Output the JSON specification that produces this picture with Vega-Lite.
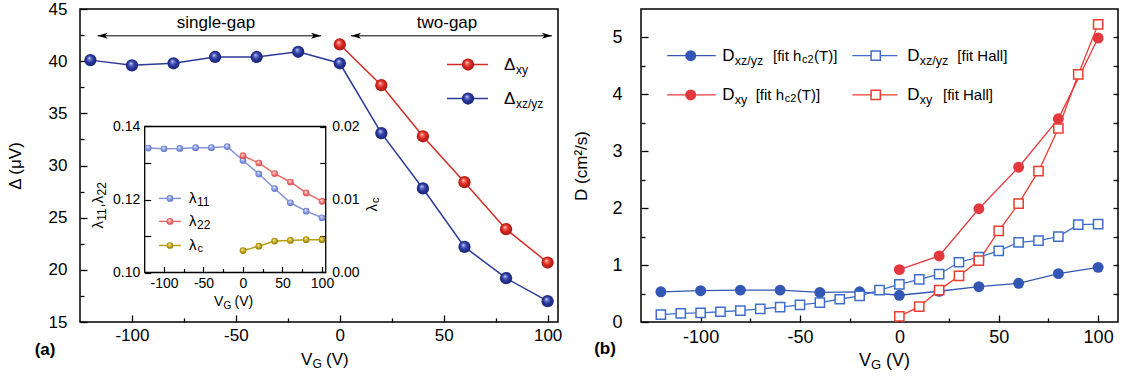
{
"$schema": "https://vega.github.io/schema/vega-lite/v6.json",
"background": "white",
"padding": {"left": 5, "top": -1, "right": 0, "bottom": 0},
"spacing": 9,
"config": {
  "font": "Liberation Sans",
  "locale": {"number": {"decimal": ".", "thousands": ",", "grouping": [3], "currency": ["$", ""], "minus": "-"}},
  "view": {"stroke": "black", "strokeWidth": 1.5},
  "axis": {"labelFont": "Liberation Sans", "titleFont": "Liberation Sans", "titleFontWeight": "normal", "labelColor": "black", "titleColor": "black", "tickColor": "black", "domain": false, "grid": false, "labelOverlap": false, "labelFlush": false, "labelBound": false}
},
"datasets": {
  "gap": [
    {"s":"xzyz","vg":-120,"d":40.1},{"s":"xzyz","vg":-100,"d":39.6},{"s":"xzyz","vg":-80,"d":39.8},{"s":"xzyz","vg":-60,"d":40.4},{"s":"xzyz","vg":-40,"d":40.4},{"s":"xzyz","vg":-20,"d":40.9},{"s":"xzyz","vg":0,"d":39.8},{"s":"xzyz","vg":20,"d":33.1},{"s":"xzyz","vg":40,"d":27.8},{"s":"xzyz","vg":60,"d":22.2},{"s":"xzyz","vg":80,"d":19.2},{"s":"xzyz","vg":100,"d":17.0},
    {"s":"xy","vg":0,"d":41.6},{"s":"xy","vg":20,"d":37.7},{"s":"xy","vg":40,"d":32.8},{"s":"xy","vg":60,"d":28.4},{"s":"xy","vg":80,"d":23.9},{"s":"xy","vg":100,"d":20.7}
  ],
  "lambda": [
    {"s":"l11","vg":-120,"v":0.1341},{"s":"l11","vg":-100,"v":0.1339},{"s":"l11","vg":-80,"v":0.134},{"s":"l11","vg":-60,"v":0.1342},{"s":"l11","vg":-40,"v":0.1342},{"s":"l11","vg":-20,"v":0.1345},{"s":"l11","vg":0,"v":0.1307},{"s":"l11","vg":20,"v":0.127},{"s":"l11","vg":40,"v":0.123},{"s":"l11","vg":60,"v":0.1191},{"s":"l11","vg":80,"v":0.1168},{"s":"l11","vg":100,"v":0.115},
    {"s":"l22","vg":0,"v":0.132},{"s":"l22","vg":20,"v":0.13},{"s":"l22","vg":40,"v":0.1271},{"s":"l22","vg":60,"v":0.1248},{"s":"l22","vg":80,"v":0.1218},{"s":"l22","vg":100,"v":0.1195},
    {"s":"lc","vg":0,"v":0.003},{"s":"lc","vg":20,"v":0.0036},{"s":"lc","vg":40,"v":0.0043},{"s":"lc","vg":60,"v":0.0044},{"s":"lc","vg":80,"v":0.0045},{"s":"lc","vg":100,"v":0.0045}
  ],
  "diff": [
    {"s":"cb","vg":-120,"D":0.53},{"s":"cb","vg":-100,"D":0.55},{"s":"cb","vg":-80,"D":0.56},{"s":"cb","vg":-60,"D":0.56},{"s":"cb","vg":-40,"D":0.52},{"s":"cb","vg":-20,"D":0.53},{"s":"cb","vg":0,"D":0.47},{"s":"cb","vg":20,"D":0.54},{"s":"cb","vg":40,"D":0.62},{"s":"cb","vg":60,"D":0.68},{"s":"cb","vg":80,"D":0.85},{"s":"cb","vg":100,"D":0.96},
    {"s":"sb","vg":-120,"D":0.13},{"s":"sb","vg":-110,"D":0.15},{"s":"sb","vg":-100,"D":0.16},{"s":"sb","vg":-90,"D":0.18},{"s":"sb","vg":-80,"D":0.2},{"s":"sb","vg":-70,"D":0.23},{"s":"sb","vg":-60,"D":0.26},{"s":"sb","vg":-50,"D":0.3},{"s":"sb","vg":-40,"D":0.34},{"s":"sb","vg":-30,"D":0.4},{"s":"sb","vg":-20,"D":0.46},{"s":"sb","vg":-10,"D":0.56},{"s":"sb","vg":0,"D":0.66},{"s":"sb","vg":10,"D":0.75},{"s":"sb","vg":20,"D":0.84},{"s":"sb","vg":30,"D":1.05},{"s":"sb","vg":40,"D":1.14},{"s":"sb","vg":50,"D":1.25},{"s":"sb","vg":60,"D":1.4},{"s":"sb","vg":70,"D":1.43},{"s":"sb","vg":80,"D":1.5},{"s":"sb","vg":90,"D":1.71},{"s":"sb","vg":100,"D":1.72},
    {"s":"cr","vg":0,"D":0.92},{"s":"cr","vg":20,"D":1.16},{"s":"cr","vg":40,"D":1.99},{"s":"cr","vg":60,"D":2.72},{"s":"cr","vg":80,"D":3.57},{"s":"cr","vg":100,"D":4.99},
    {"s":"sr","vg":0,"D":0.1},{"s":"sr","vg":10,"D":0.27},{"s":"sr","vg":20,"D":0.56},{"s":"sr","vg":30,"D":0.81},{"s":"sr","vg":40,"D":1.08},{"s":"sr","vg":50,"D":1.6},{"s":"sr","vg":60,"D":2.08},{"s":"sr","vg":70,"D":2.65},{"s":"sr","vg":80,"D":3.4},{"s":"sr","vg":90,"D":4.35},{"s":"sr","vg":100,"D":5.23}
  ]
},
"hconcat": [
{
  "width": 478, "height": 313,
  "data": {"values": [{}]},
  "resolve": {"scale": {"x": "independent", "y": "independent"}},
  "layer": [
    {"data": {"name": "gap"}, "transform": [{"filter": "datum.s === 'xzyz'"}],
     "mark": {"type": "line", "color": "#2b3a97", "strokeWidth": 1.5},
     "encoding": {
       "x": {"field": "vg", "type": "quantitative", "scale": {"domain": [-125, 105], "nice": false, "zero": false},
             "axis": {"orient": "bottom", "title": null, "values": [-100,-50,0,50,100], "tickSize": -7, "tickWidth": 1.3, "labelPadding": 12, "labelFontSize": 17}},
       "y": {"field": "d", "type": "quantitative", "scale": {"domain": [15, 45], "nice": false, "zero": false},
             "axis": {"orient": "left", "title": "Δ (μV)", "titleFontSize": 17, "titlePadding": 24, "values": [15,20,25,30,35,40,45], "tickSize": -7, "tickWidth": 1.3, "labelPadding": 20, "labelFontSize": 17}}
     }},
    {"data": {"name": "gap"}, "transform": [{"filter": "datum.s === 'xy'"}],
     "mark": {"type": "line", "color": "#d42b24", "strokeWidth": 1.5},
     "encoding": {
       "x": {"field": "vg", "type": "quantitative", "scale": {"domain": [-125, 105], "nice": false, "zero": false},
             "axis": {"orient": "bottom", "title": null, "values": [-75,-25,25,75], "labels": false, "tickSize": -4, "tickWidth": 1.3}},
       "y": {"field": "d", "type": "quantitative", "scale": {"domain": [15, 45], "nice": false, "zero": false},
             "axis": {"orient": "left", "title": null, "values": [17.5,22.5,27.5,32.5,37.5,42.5], "labels": false, "tickSize": -4, "tickWidth": 1.3}}
     }},
    {"data": {"name": "gap"}, "transform": [{"filter": "datum.s === 'xzyz'"}],
     "mark": {"type": "point", "shape": "circle", "filled": true, "opacity": 1, "size": 150, "strokeWidth": 0,
              "fill": {"gradient": "radial", "x1": 0.4, "y1": 0.33, "r1": 0, "x2": 0.5, "y2": 0.5, "r2": 0.55, "stops": [{"offset": 0, "color": "#eef0ff"}, {"offset": 0.18, "color": "#7a86d4"}, {"offset": 0.5, "color": "#2c3aa0"}, {"offset": 1, "color": "#151f6e"}]}},
     "encoding": {"x": {"field": "vg", "type": "quantitative", "scale": {"domain": [-125, 105], "nice": false, "zero": false}, "axis": null}, "y": {"field": "d", "type": "quantitative", "scale": {"domain": [15, 45], "nice": false, "zero": false}, "axis": null}}},
    {"data": {"name": "gap"}, "transform": [{"filter": "datum.s === 'xy'"}],
     "mark": {"type": "point", "shape": "circle", "filled": true, "opacity": 1, "size": 150, "strokeWidth": 0,
              "fill": {"gradient": "radial", "x1": 0.4, "y1": 0.33, "r1": 0, "x2": 0.5, "y2": 0.5, "r2": 0.55, "stops": [{"offset": 0, "color": "#fff4f0"}, {"offset": 0.18, "color": "#f27a6e"}, {"offset": 0.5, "color": "#de2a22"}, {"offset": 1, "color": "#951510"}]}},
     "encoding": {"x": {"field": "vg", "type": "quantitative", "scale": {"domain": [-125, 105], "nice": false, "zero": false}, "axis": null}, "y": {"field": "d", "type": "quantitative", "scale": {"domain": [15, 45], "nice": false, "zero": false}, "axis": null}}},
    {"mark": {"type": "rule", "color": "black", "strokeWidth": 1},
     "encoding": {"x": {"datum": -116.5, "type": "quantitative", "scale": {"domain": [-125, 105], "nice": false, "zero": false}, "axis": null}, "x2": {"datum": -9}, "y": {"datum": 42.43, "type": "quantitative", "scale": {"domain": [15, 45], "nice": false, "zero": false}, "axis": null}}},
    {"mark": {"type": "rule", "color": "black", "strokeWidth": 1},
     "encoding": {"x": {"datum": 5.4, "type": "quantitative", "scale": {"domain": [-125, 105], "nice": false, "zero": false}, "axis": null}, "x2": {"datum": 102.1}, "y": {"datum": 42.43, "type": "quantitative", "scale": {"domain": [15, 45], "nice": false, "zero": false}, "axis": null}}},
    {"mark": {"type": "point", "shape": "M-1,0 L1,-0.6 L0.5,0 L1,0.6 Z", "filled": true, "opacity": 1, "color": "black", "size": 100},
     "encoding": {"x": {"datum": -114.1, "type": "quantitative", "scale": {"domain": [-125, 105], "nice": false, "zero": false}, "axis": null}, "y": {"datum": 42.43, "type": "quantitative", "scale": {"domain": [15, 45], "nice": false, "zero": false}, "axis": null}}},
    {"mark": {"type": "point", "shape": "M1,0 L-1,-0.6 L-0.5,0 L-1,0.6 Z", "filled": true, "opacity": 1, "color": "black", "size": 100},
     "encoding": {"x": {"datum": -11.4, "type": "quantitative", "scale": {"domain": [-125, 105], "nice": false, "zero": false}, "axis": null}, "y": {"datum": 42.43, "type": "quantitative", "scale": {"domain": [15, 45], "nice": false, "zero": false}, "axis": null}}},
    {"mark": {"type": "point", "shape": "M-1,0 L1,-0.6 L0.5,0 L1,0.6 Z", "filled": true, "opacity": 1, "color": "black", "size": 100},
     "encoding": {"x": {"datum": 7.8, "type": "quantitative", "scale": {"domain": [-125, 105], "nice": false, "zero": false}, "axis": null}, "y": {"datum": 42.43, "type": "quantitative", "scale": {"domain": [15, 45], "nice": false, "zero": false}, "axis": null}}},
    {"mark": {"type": "point", "shape": "M1,0 L-1,-0.6 L-0.5,0 L-1,0.6 Z", "filled": true, "opacity": 1, "color": "black", "size": 100},
     "encoding": {"x": {"datum": 99.7, "type": "quantitative", "scale": {"domain": [-125, 105], "nice": false, "zero": false}, "axis": null}, "y": {"datum": 42.43, "type": "quantitative", "scale": {"domain": [15, 45], "nice": false, "zero": false}, "axis": null}}},
    {"mark": {"type": "text", "text": "single-gap", "fontSize": 17, "align": "center", "baseline": "middle", "color": "black"},
     "encoding": {"x": {"datum": -59.6, "type": "quantitative", "scale": {"domain": [-125, 105], "nice": false, "zero": false}, "axis": null}, "y": {"datum": 43.64, "type": "quantitative", "scale": {"domain": [15, 45], "nice": false, "zero": false}, "axis": null}}},
    {"mark": {"type": "text", "text": "two-gap", "fontSize": 17, "align": "center", "baseline": "middle", "color": "black"},
     "encoding": {"x": {"datum": 51.6, "type": "quantitative", "scale": {"domain": [-125, 105], "nice": false, "zero": false}, "axis": null}, "y": {"datum": 43.64, "type": "quantitative", "scale": {"domain": [15, 45], "nice": false, "zero": false}, "axis": null}}},
    {"mark": {"type": "rule", "color": "#d42b24", "strokeWidth": 1.5},
     "encoding": {"x": {"datum": 51.6, "type": "quantitative", "scale": {"domain": [-125, 105], "nice": false, "zero": false}, "axis": null}, "x2": {"datum": 71.3}, "y": {"datum": 39.68, "type": "quantitative", "scale": {"domain": [15, 45], "nice": false, "zero": false}, "axis": null}}},
    {"mark": {"type": "rule", "color": "#2b3a97", "strokeWidth": 1.5},
     "encoding": {"x": {"datum": 51.6, "type": "quantitative", "scale": {"domain": [-125, 105], "nice": false, "zero": false}, "axis": null}, "x2": {"datum": 71.3}, "y": {"datum": 36.42, "type": "quantitative", "scale": {"domain": [15, 45], "nice": false, "zero": false}, "axis": null}}},
    {"mark": {"type": "point", "shape": "circle", "filled": true, "opacity": 1, "size": 150, "strokeWidth": 0,
              "fill": {"gradient": "radial", "x1": 0.4, "y1": 0.33, "r1": 0, "x2": 0.5, "y2": 0.5, "r2": 0.55, "stops": [{"offset": 0, "color": "#fff4f0"}, {"offset": 0.18, "color": "#f27a6e"}, {"offset": 0.5, "color": "#de2a22"}, {"offset": 1, "color": "#951510"}]}},
     "encoding": {"x": {"datum": 61.7, "type": "quantitative", "scale": {"domain": [-125, 105], "nice": false, "zero": false}, "axis": null}, "y": {"datum": 39.68, "type": "quantitative", "scale": {"domain": [15, 45], "nice": false, "zero": false}, "axis": null}}},
    {"mark": {"type": "point", "shape": "circle", "filled": true, "opacity": 1, "size": 150, "strokeWidth": 0,
              "fill": {"gradient": "radial", "x1": 0.4, "y1": 0.33, "r1": 0, "x2": 0.5, "y2": 0.5, "r2": 0.55, "stops": [{"offset": 0, "color": "#eef0ff"}, {"offset": 0.18, "color": "#7a86d4"}, {"offset": 0.5, "color": "#2c3aa0"}, {"offset": 1, "color": "#151f6e"}]}},
     "encoding": {"x": {"datum": 61.7, "type": "quantitative", "scale": {"domain": [-125, 105], "nice": false, "zero": false}, "axis": null}, "y": {"datum": 36.42, "type": "quantitative", "scale": {"domain": [15, 45], "nice": false, "zero": false}, "axis": null}}},
    {"mark": {"type": "text", "text": "Δ", "fontSize": 17, "align": "left", "baseline": "middle", "color": "black"},
     "encoding": {"x": {"datum": 79, "type": "quantitative", "scale": {"domain": [-125, 105], "nice": false, "zero": false}, "axis": null}, "y": {"datum": 39.68, "type": "quantitative", "scale": {"domain": [15, 45], "nice": false, "zero": false}, "axis": null}}},
    {"mark": {"type": "text", "text": "xy", "fontSize": 12, "align": "left", "baseline": "middle", "color": "black", "dx": 12, "dy": 5},
     "encoding": {"x": {"datum": 79, "type": "quantitative", "scale": {"domain": [-125, 105], "nice": false, "zero": false}, "axis": null}, "y": {"datum": 39.68, "type": "quantitative", "scale": {"domain": [15, 45], "nice": false, "zero": false}, "axis": null}}},
    {"mark": {"type": "text", "text": "Δ", "fontSize": 17, "align": "left", "baseline": "middle", "color": "black"},
     "encoding": {"x": {"datum": 79, "type": "quantitative", "scale": {"domain": [-125, 105], "nice": false, "zero": false}, "axis": null}, "y": {"datum": 36.42, "type": "quantitative", "scale": {"domain": [15, 45], "nice": false, "zero": false}, "axis": null}}},
    {"mark": {"type": "text", "text": "xz/yz", "fontSize": 12, "align": "left", "baseline": "middle", "color": "black", "dx": 12, "dy": 5},
     "encoding": {"x": {"datum": 79, "type": "quantitative", "scale": {"domain": [-125, 105], "nice": false, "zero": false}, "axis": null}, "y": {"datum": 36.42, "type": "quantitative", "scale": {"domain": [15, 45], "nice": false, "zero": false}, "axis": null}}},
    {"mark": {"type": "text", "text": "(a)", "fontSize": 17, "fontWeight": "bold", "align": "center", "baseline": "middle", "color": "black"},
     "encoding": {"x": {"datum": -141.8, "type": "quantitative", "scale": {"domain": [-125, 105], "nice": false, "zero": false}, "axis": null}, "y": {"datum": 12.36, "type": "quantitative", "scale": {"domain": [15, 45], "nice": false, "zero": false}, "axis": null}}},
    {"mark": {"type": "text", "text": "V", "fontSize": 17, "align": "left", "baseline": "middle", "color": "black"},
     "encoding": {"x": {"datum": -18.65, "type": "quantitative", "scale": {"domain": [-125, 105], "nice": false, "zero": false}, "axis": null}, "y": {"datum": 11.4, "type": "quantitative", "scale": {"domain": [15, 45], "nice": false, "zero": false}, "axis": null}}},
    {"mark": {"type": "text", "text": "G", "fontSize": 12, "align": "left", "baseline": "middle", "color": "black", "dx": 11.5, "dy": 4},
     "encoding": {"x": {"datum": -18.65, "type": "quantitative", "scale": {"domain": [-125, 105], "nice": false, "zero": false}, "axis": null}, "y": {"datum": 11.4, "type": "quantitative", "scale": {"domain": [15, 45], "nice": false, "zero": false}, "axis": null}}},
    {"mark": {"type": "text", "text": "(V)", "fontSize": 17, "align": "left", "baseline": "middle", "color": "black", "dx": 25},
     "encoding": {"x": {"datum": -18.65, "type": "quantitative", "scale": {"domain": [-125, 105], "nice": false, "zero": false}, "axis": null}, "y": {"datum": 11.4, "type": "quantitative", "scale": {"domain": [15, 45], "nice": false, "zero": false}, "axis": null}}},

    {"mark": {"type": "rect", "fill": "white", "fillOpacity": 0, "stroke": "black", "strokeWidth": 1.3},
     "encoding": {"x": {"datum": -124.4, "type": "quantitative", "scale": {"domain": [-206.3, 398.7], "nice": false, "zero": false}, "axis": null}, "x2": {"datum": 104.7},
                  "y": {"datum": 0.1, "type": "quantitative", "scale": {"domain": [0.08644, 0.17219], "nice": false, "zero": false}, "axis": null}, "y2": {"datum": 0.14}}},
    {"data": {"name": "lambda"}, "transform": [{"filter": "datum.s === 'l11'"}],
     "mark": {"type": "line", "color": "#8296dc", "strokeWidth": 1.5},
     "encoding": {
       "x": {"field": "vg", "type": "quantitative", "scale": {"domain": [-206.3, 398.7], "nice": false, "zero": false},
             "axis": {"orient": "bottom", "offset": -49.5, "title": null, "values": [-100,-50,0,50,100], "tickSize": -6, "tickWidth": 1.2, "labelPadding": 10, "labelFontSize": 14}},
       "y": {"field": "v", "type": "quantitative", "scale": {"domain": [0.08644, 0.17219], "nice": false, "zero": false},
             "axis": {"orient": "left", "offset": -64.7, "title": null, "values": [0.1, 0.12, 0.14], "format": ".2f", "tickSize": -6, "tickWidth": 1.2, "labelPadding": 11, "labelFontSize": 14}}
     }},
    {"data": {"name": "lambda"}, "transform": [{"filter": "datum.s === 'l22'"}],
     "mark": {"type": "line", "color": "#e96a68", "strokeWidth": 1.5},
     "encoding": {
       "x": {"field": "vg", "type": "quantitative", "scale": {"domain": [-206.3, 398.7], "nice": false, "zero": false},
             "axis": {"orient": "bottom", "offset": -49.5, "title": null, "values": [-75,-25,25,75], "labels": false, "tickSize": -4, "tickWidth": 1.2}},
       "y": {"field": "v", "type": "quantitative", "scale": {"domain": [0.08644, 0.17219], "nice": false, "zero": false},
             "axis": {"orient": "left", "offset": -64.7, "title": null, "values": [0.11, 0.13], "labels": false, "tickSize": -6, "tickWidth": 1.2}}
     }},
    {"data": {"name": "lambda"}, "transform": [{"filter": "datum.s === 'l11'"}],
     "mark": {"type": "point", "shape": "circle", "filled": true, "opacity": 1, "size": 45, "strokeWidth": 0,
              "fill": {"gradient": "radial", "x1": 0.4, "y1": 0.33, "r1": 0, "x2": 0.5, "y2": 0.5, "r2": 0.55, "stops": [{"offset": 0, "color": "#ffffff"}, {"offset": 0.25, "color": "#b8c4f0"}, {"offset": 0.6, "color": "#7f93dc"}, {"offset": 1, "color": "#5a6cc0"}]}},
     "encoding": {"x": {"field": "vg", "type": "quantitative", "scale": {"domain": [-206.3, 398.7], "nice": false, "zero": false}, "axis": null}, "y": {"field": "v", "type": "quantitative", "scale": {"domain": [0.08644, 0.17219], "nice": false, "zero": false}, "axis": null}}},
    {"data": {"name": "lambda"}, "transform": [{"filter": "datum.s === 'l22'"}],
     "mark": {"type": "point", "shape": "circle", "filled": true, "opacity": 1, "size": 45, "strokeWidth": 0,
              "fill": {"gradient": "radial", "x1": 0.4, "y1": 0.33, "r1": 0, "x2": 0.5, "y2": 0.5, "r2": 0.55, "stops": [{"offset": 0, "color": "#ffffff"}, {"offset": 0.25, "color": "#f8b8b0"}, {"offset": 0.6, "color": "#ec6a66"}, {"offset": 1, "color": "#c84444"}]}},
     "encoding": {"x": {"field": "vg", "type": "quantitative", "scale": {"domain": [-206.3, 398.7], "nice": false, "zero": false}, "axis": null}, "y": {"field": "v", "type": "quantitative", "scale": {"domain": [0.08644, 0.17219], "nice": false, "zero": false}, "axis": null}}},
    {"mark": {"type": "rule", "color": "#8296dc", "strokeWidth": 1.5},
     "encoding": {"x": {"datum": -106.3, "type": "quantitative", "scale": {"domain": [-206.3, 398.7], "nice": false, "zero": false}, "axis": null}, "x2": {"datum": -78.5}, "y": {"datum": 0.1203, "type": "quantitative", "scale": {"domain": [0.08644, 0.17219], "nice": false, "zero": false}, "axis": null}}},
    {"mark": {"type": "rule", "color": "#e96a68", "strokeWidth": 1.5},
     "encoding": {"x": {"datum": -106.3, "type": "quantitative", "scale": {"domain": [-206.3, 398.7], "nice": false, "zero": false}, "axis": null}, "x2": {"datum": -78.5}, "y": {"datum": 0.114, "type": "quantitative", "scale": {"domain": [0.08644, 0.17219], "nice": false, "zero": false}, "axis": null}}},
    {"mark": {"type": "rule", "color": "#b8a010", "strokeWidth": 1.5},
     "encoding": {"x": {"datum": -106.3, "type": "quantitative", "scale": {"domain": [-206.3, 398.7], "nice": false, "zero": false}, "axis": null}, "x2": {"datum": -78.5}, "y": {"datum": 0.1074, "type": "quantitative", "scale": {"domain": [0.08644, 0.17219], "nice": false, "zero": false}, "axis": null}}},
    {"mark": {"type": "point", "shape": "circle", "filled": true, "opacity": 1, "size": 45, "strokeWidth": 0,
              "fill": {"gradient": "radial", "x1": 0.4, "y1": 0.33, "r1": 0, "x2": 0.5, "y2": 0.5, "r2": 0.55, "stops": [{"offset": 0, "color": "#ffffff"}, {"offset": 0.25, "color": "#b8c4f0"}, {"offset": 0.6, "color": "#7f93dc"}, {"offset": 1, "color": "#5a6cc0"}]}},
     "encoding": {"x": {"datum": -92.4, "type": "quantitative", "scale": {"domain": [-206.3, 398.7], "nice": false, "zero": false}, "axis": null}, "y": {"datum": 0.1203, "type": "quantitative", "scale": {"domain": [0.08644, 0.17219], "nice": false, "zero": false}, "axis": null}}},
    {"mark": {"type": "point", "shape": "circle", "filled": true, "opacity": 1, "size": 45, "strokeWidth": 0,
              "fill": {"gradient": "radial", "x1": 0.4, "y1": 0.33, "r1": 0, "x2": 0.5, "y2": 0.5, "r2": 0.55, "stops": [{"offset": 0, "color": "#ffffff"}, {"offset": 0.25, "color": "#f8b8b0"}, {"offset": 0.6, "color": "#ec6a66"}, {"offset": 1, "color": "#c84444"}]}},
     "encoding": {"x": {"datum": -92.4, "type": "quantitative", "scale": {"domain": [-206.3, 398.7], "nice": false, "zero": false}, "axis": null}, "y": {"datum": 0.114, "type": "quantitative", "scale": {"domain": [0.08644, 0.17219], "nice": false, "zero": false}, "axis": null}}},
    {"mark": {"type": "point", "shape": "circle", "filled": true, "opacity": 1, "size": 45, "strokeWidth": 0,
              "fill": {"gradient": "radial", "x1": 0.4, "y1": 0.33, "r1": 0, "x2": 0.5, "y2": 0.5, "r2": 0.55, "stops": [{"offset": 0, "color": "#fffbe0"}, {"offset": 0.25, "color": "#e0cc60"}, {"offset": 0.6, "color": "#b89e10"}, {"offset": 1, "color": "#8a7408"}]}},
     "encoding": {"x": {"datum": -92.4, "type": "quantitative", "scale": {"domain": [-206.3, 398.7], "nice": false, "zero": false}, "axis": null}, "y": {"datum": 0.1074, "type": "quantitative", "scale": {"domain": [0.08644, 0.17219], "nice": false, "zero": false}, "axis": null}}},
    {"mark": {"type": "text", "text": "λ", "fontSize": 15, "align": "left", "baseline": "middle", "color": "black"},
     "encoding": {"x": {"datum": -68.3, "type": "quantitative", "scale": {"domain": [-206.3, 398.7], "nice": false, "zero": false}, "axis": null}, "y": {"datum": 0.1203, "type": "quantitative", "scale": {"domain": [0.08644, 0.17219], "nice": false, "zero": false}, "axis": null}}},
    {"mark": {"type": "text", "text": "11", "fontSize": 12, "align": "left", "baseline": "middle", "color": "black", "dx": 8, "dy": 4},
     "encoding": {"x": {"datum": -68.3, "type": "quantitative", "scale": {"domain": [-206.3, 398.7], "nice": false, "zero": false}, "axis": null}, "y": {"datum": 0.1203, "type": "quantitative", "scale": {"domain": [0.08644, 0.17219], "nice": false, "zero": false}, "axis": null}}},
    {"mark": {"type": "text", "text": "λ", "fontSize": 15, "align": "left", "baseline": "middle", "color": "black"},
     "encoding": {"x": {"datum": -68.3, "type": "quantitative", "scale": {"domain": [-206.3, 398.7], "nice": false, "zero": false}, "axis": null}, "y": {"datum": 0.114, "type": "quantitative", "scale": {"domain": [0.08644, 0.17219], "nice": false, "zero": false}, "axis": null}}},
    {"mark": {"type": "text", "text": "22", "fontSize": 12, "align": "left", "baseline": "middle", "color": "black", "dx": 8, "dy": 4},
     "encoding": {"x": {"datum": -68.3, "type": "quantitative", "scale": {"domain": [-206.3, 398.7], "nice": false, "zero": false}, "axis": null}, "y": {"datum": 0.114, "type": "quantitative", "scale": {"domain": [0.08644, 0.17219], "nice": false, "zero": false}, "axis": null}}},
    {"mark": {"type": "text", "text": "λ", "fontSize": 15, "align": "left", "baseline": "middle", "color": "black"},
     "encoding": {"x": {"datum": -68.3, "type": "quantitative", "scale": {"domain": [-206.3, 398.7], "nice": false, "zero": false}, "axis": null}, "y": {"datum": 0.1074, "type": "quantitative", "scale": {"domain": [0.08644, 0.17219], "nice": false, "zero": false}, "axis": null}}},
    {"mark": {"type": "text", "text": "c", "fontSize": 11, "align": "left", "baseline": "middle", "color": "black", "dx": 8.5, "dy": 4},
     "encoding": {"x": {"datum": -68.3, "type": "quantitative", "scale": {"domain": [-206.3, 398.7], "nice": false, "zero": false}, "axis": null}, "y": {"datum": 0.1074, "type": "quantitative", "scale": {"domain": [0.08644, 0.17219], "nice": false, "zero": false}, "axis": null}}},
    {"mark": {"type": "text", "text": "λ", "fontSize": 15, "align": "left", "baseline": "middle", "angle": 270, "color": "black"},
     "encoding": {"x": {"datum": -183.5, "type": "quantitative", "scale": {"domain": [-206.3, 398.7], "nice": false, "zero": false}, "axis": null}, "y": {"datum": 0.11205, "type": "quantitative", "scale": {"domain": [0.08644, 0.17219], "nice": false, "zero": false}, "axis": null}}},
    {"mark": {"type": "text", "text": "11", "fontSize": 12, "align": "left", "baseline": "middle", "angle": 270, "color": "black", "dx": 7.8, "dy": 4},
     "encoding": {"x": {"datum": -183.5, "type": "quantitative", "scale": {"domain": [-206.3, 398.7], "nice": false, "zero": false}, "axis": null}, "y": {"datum": 0.11205, "type": "quantitative", "scale": {"domain": [0.08644, 0.17219], "nice": false, "zero": false}, "axis": null}}},
    {"mark": {"type": "text", "text": ",", "fontSize": 15, "align": "left", "baseline": "middle", "angle": 270, "color": "black", "dx": 21},
     "encoding": {"x": {"datum": -183.5, "type": "quantitative", "scale": {"domain": [-206.3, 398.7], "nice": false, "zero": false}, "axis": null}, "y": {"datum": 0.11205, "type": "quantitative", "scale": {"domain": [0.08644, 0.17219], "nice": false, "zero": false}, "axis": null}}},
    {"mark": {"type": "text", "text": "λ", "fontSize": 15, "align": "left", "baseline": "middle", "angle": 270, "color": "black", "dx": 25.2},
     "encoding": {"x": {"datum": -183.5, "type": "quantitative", "scale": {"domain": [-206.3, 398.7], "nice": false, "zero": false}, "axis": null}, "y": {"datum": 0.11205, "type": "quantitative", "scale": {"domain": [0.08644, 0.17219], "nice": false, "zero": false}, "axis": null}}},
    {"mark": {"type": "text", "text": "22", "fontSize": 12, "align": "left", "baseline": "middle", "angle": 270, "color": "black", "dx": 33, "dy": 4},
     "encoding": {"x": {"datum": -183.5, "type": "quantitative", "scale": {"domain": [-206.3, 398.7], "nice": false, "zero": false}, "axis": null}, "y": {"datum": 0.11205, "type": "quantitative", "scale": {"domain": [0.08644, 0.17219], "nice": false, "zero": false}, "axis": null}}},
    {"mark": {"type": "text", "text": "V", "fontSize": 14, "align": "left", "baseline": "middle", "color": "black"},
     "encoding": {"x": {"datum": -36.7, "type": "quantitative", "scale": {"domain": [-206.3, 398.7], "nice": false, "zero": false}, "axis": null}, "y": {"datum": 0.0918, "type": "quantitative", "scale": {"domain": [0.08644, 0.17219], "nice": false, "zero": false}, "axis": null}}},
    {"mark": {"type": "text", "text": "G", "fontSize": 10, "align": "left", "baseline": "middle", "color": "black", "dx": 9.5, "dy": 3.5},
     "encoding": {"x": {"datum": -36.7, "type": "quantitative", "scale": {"domain": [-206.3, 398.7], "nice": false, "zero": false}, "axis": null}, "y": {"datum": 0.0918, "type": "quantitative", "scale": {"domain": [0.08644, 0.17219], "nice": false, "zero": false}, "axis": null}}},
    {"mark": {"type": "text", "text": "(V)", "fontSize": 14, "align": "left", "baseline": "middle", "color": "black", "dx": 20.5},
     "encoding": {"x": {"datum": -36.7, "type": "quantitative", "scale": {"domain": [-206.3, 398.7], "nice": false, "zero": false}, "axis": null}, "y": {"datum": 0.0918, "type": "quantitative", "scale": {"domain": [0.08644, 0.17219], "nice": false, "zero": false}, "axis": null}}},

    {"data": {"name": "lambda"}, "transform": [{"filter": "datum.s === 'lc'"}],
     "mark": {"type": "line", "color": "#b8a010", "strokeWidth": 1.5},
     "encoding": {
       "x": {"field": "vg", "type": "quantitative", "scale": {"domain": [-206.3, 398.7], "nice": false, "zero": false}, "axis": null},
       "y": {"field": "v", "type": "quantitative", "scale": {"domain": [-0.006781, 0.036096], "nice": false, "zero": false},
             "axis": {"orient": "right", "offset": -232.3, "title": null, "values": [0, 0.01, 0.02], "format": ".2f", "tickSize": -6, "tickWidth": 1.2, "labelPadding": 12, "labelFontSize": 14}}
     }},
    {"data": {"name": "lambda"}, "transform": [{"filter": "datum.s === 'lc'"}],
     "mark": {"type": "point", "shape": "circle", "filled": true, "opacity": 1, "size": 45, "strokeWidth": 0,
              "fill": {"gradient": "radial", "x1": 0.4, "y1": 0.33, "r1": 0, "x2": 0.5, "y2": 0.5, "r2": 0.55, "stops": [{"offset": 0, "color": "#fffbe0"}, {"offset": 0.25, "color": "#e0cc60"}, {"offset": 0.6, "color": "#b89e10"}, {"offset": 1, "color": "#8a7408"}]}},
     "encoding": {
       "x": {"field": "vg", "type": "quantitative", "scale": {"domain": [-206.3, 398.7], "nice": false, "zero": false}, "axis": null},
       "y": {"field": "v", "type": "quantitative", "scale": {"domain": [-0.006781, 0.036096], "nice": false, "zero": false},
             "axis": {"orient": "right", "offset": -232.3, "title": null, "values": [0.005, 0.015], "labels": false, "tickSize": -6, "tickWidth": 1.2}}
     }},
    {"mark": {"type": "text", "text": "λ", "fontSize": 15, "align": "left", "baseline": "middle", "angle": 270, "color": "black"},
     "encoding": {"x": {"datum": 163.3, "type": "quantitative", "scale": {"domain": [-206.3, 398.7], "nice": false, "zero": false}, "axis": null}, "y": {"datum": 0.00836, "type": "quantitative", "scale": {"domain": [-0.006781, 0.036096], "nice": false, "zero": false}, "axis": null}}},
    {"mark": {"type": "text", "text": "c", "fontSize": 11, "align": "left", "baseline": "middle", "angle": 270, "color": "black", "dx": 8.5, "dy": 4},
     "encoding": {"x": {"datum": 163.3, "type": "quantitative", "scale": {"domain": [-206.3, 398.7], "nice": false, "zero": false}, "axis": null}, "y": {"datum": 0.00836, "type": "quantitative", "scale": {"domain": [-0.006781, 0.036096], "nice": false, "zero": false}, "axis": null}}}
  ]
},
{
  "width": 477, "height": 313,
  "data": {"values": [{}]},
  "resolve": {"scale": {"x": "independent", "y": "independent"}},
  "layer": [
    {"data": {"name": "diff"}, "transform": [{"filter": "datum.s === 'cb'"}],
     "mark": {"type": "line", "color": "#3457b6", "strokeWidth": 1.3},
     "encoding": {
       "x": {"field": "vg", "type": "quantitative", "scale": {"domain": [-130, 110], "nice": false, "zero": false},
             "axis": {"orient": "bottom", "title": null, "values": [-100,-50,0,50,100], "tickSize": -7, "tickWidth": 1.3, "labelPadding": 13, "labelFontSize": 18}},
       "y": {"field": "D", "type": "quantitative", "scale": {"domain": [0, 5.5], "nice": false, "zero": false},
             "axis": {"orient": "left", "title": "D (cm²/s)", "titleFontSize": 17, "titlePadding": 21, "values": [0,1,2,3,4,5], "tickSize": -7, "tickWidth": 1.3, "labelPadding": 26, "labelFontSize": 18}}
     }},
    {"data": {"name": "diff"}, "transform": [{"filter": "datum.s === 'sb'"}],
     "mark": {"type": "line", "color": "#3e6dcc", "strokeWidth": 1.3},
     "encoding": {
       "x": {"field": "vg", "type": "quantitative", "scale": {"domain": [-130, 110], "nice": false, "zero": false},
             "axis": {"orient": "bottom", "title": null, "values": [-75,-25,25,75], "labels": false, "tickSize": -4, "tickWidth": 1.3}},
       "y": {"field": "D", "type": "quantitative", "scale": {"domain": [0, 5.5], "nice": false, "zero": false},
             "axis": {"orient": "left", "title": null, "values": [0.5,1.5,2.5,3.5,4.5], "labels": false, "tickSize": -4, "tickWidth": 1.3}}
     }},
    {"data": {"name": "diff"}, "transform": [{"filter": "datum.s === 'sr'"}],
     "mark": {"type": "line", "color": "#ee3b2e", "strokeWidth": 1.3},
     "encoding": {
       "x": {"field": "vg", "type": "quantitative", "scale": {"domain": [-130, 110], "nice": false, "zero": false}, "axis": null},
       "y": {"field": "D", "type": "quantitative", "scale": {"domain": [0, 5.5], "nice": false, "zero": false},
             "axis": {"orient": "right", "title": null, "values": [0.5,1,1.5,2,2.5,3,3.5,4,4.5,5], "labels": false, "tickSize": -5, "tickWidth": 1.3}}
     }},
    {"data": {"name": "diff"}, "transform": [{"filter": "datum.s === 'cr'"}],
     "mark": {"type": "line", "color": "#e5383e", "strokeWidth": 1.3},
     "encoding": {"x": {"field": "vg", "type": "quantitative", "scale": {"domain": [-130, 110], "nice": false, "zero": false}, "axis": null}, "y": {"field": "D", "type": "quantitative", "scale": {"domain": [0, 5.5], "nice": false, "zero": false}, "axis": null}}},
    {"data": {"name": "diff"}, "transform": [{"filter": "datum.s === 'cb'"}],
     "mark": {"type": "point", "shape": "circle", "filled": true, "opacity": 1, "size": 120, "color": "#3457b6"},
     "encoding": {"x": {"field": "vg", "type": "quantitative", "scale": {"domain": [-130, 110], "nice": false, "zero": false}, "axis": null}, "y": {"field": "D", "type": "quantitative", "scale": {"domain": [0, 5.5], "nice": false, "zero": false}, "axis": null}}},
    {"data": {"name": "diff"}, "transform": [{"filter": "datum.s === 'sb'"}],
     "mark": {"type": "point", "shape": "square", "filled": true, "opacity": 1, "size": 85, "fill": "white", "stroke": "#3e6dcc", "strokeWidth": 1.5},
     "encoding": {"x": {"field": "vg", "type": "quantitative", "scale": {"domain": [-130, 110], "nice": false, "zero": false}, "axis": null}, "y": {"field": "D", "type": "quantitative", "scale": {"domain": [0, 5.5], "nice": false, "zero": false}, "axis": null}}},
    {"data": {"name": "diff"}, "transform": [{"filter": "datum.s === 'cr'"}],
     "mark": {"type": "point", "shape": "circle", "filled": true, "opacity": 1, "size": 120, "color": "#e5383e"},
     "encoding": {"x": {"field": "vg", "type": "quantitative", "scale": {"domain": [-130, 110], "nice": false, "zero": false}, "axis": null}, "y": {"field": "D", "type": "quantitative", "scale": {"domain": [0, 5.5], "nice": false, "zero": false}, "axis": null}}},
    {"data": {"name": "diff"}, "transform": [{"filter": "datum.s === 'sr'"}],
     "mark": {"type": "point", "shape": "square", "filled": true, "opacity": 1, "size": 85, "fill": "white", "stroke": "#ee3b2e", "strokeWidth": 1.5},
     "encoding": {"x": {"field": "vg", "type": "quantitative", "scale": {"domain": [-130, 110], "nice": false, "zero": false}, "axis": null}, "y": {"field": "D", "type": "quantitative", "scale": {"domain": [0, 5.5], "nice": false, "zero": false}, "axis": null}}},
    {"mark": {"type": "rule", "color": "#3457b6", "strokeWidth": 1.3},
     "encoding": {"x": {"datum": -116.8, "type": "quantitative", "scale": {"domain": [-130, 110], "nice": false, "zero": false}, "axis": null}, "x2": {"datum": -92.4}, "y": {"datum": 4.68, "type": "quantitative", "scale": {"domain": [0, 5.5], "nice": false, "zero": false}, "axis": null}}},
    {"mark": {"type": "rule", "color": "#e5383e", "strokeWidth": 1.3},
     "encoding": {"x": {"datum": -116.8, "type": "quantitative", "scale": {"domain": [-130, 110], "nice": false, "zero": false}, "axis": null}, "x2": {"datum": -92.4}, "y": {"datum": 3.99, "type": "quantitative", "scale": {"domain": [0, 5.5], "nice": false, "zero": false}, "axis": null}}},
    {"mark": {"type": "rule", "color": "#3e6dcc", "strokeWidth": 1.3},
     "encoding": {"x": {"datum": -23.7, "type": "quantitative", "scale": {"domain": [-130, 110], "nice": false, "zero": false}, "axis": null}, "x2": {"datum": -1}, "y": {"datum": 4.68, "type": "quantitative", "scale": {"domain": [0, 5.5], "nice": false, "zero": false}, "axis": null}}},
    {"mark": {"type": "rule", "color": "#ee3b2e", "strokeWidth": 1.3},
     "encoding": {"x": {"datum": -23.7, "type": "quantitative", "scale": {"domain": [-130, 110], "nice": false, "zero": false}, "axis": null}, "x2": {"datum": -1}, "y": {"datum": 3.99, "type": "quantitative", "scale": {"domain": [0, 5.5], "nice": false, "zero": false}, "axis": null}}},
    {"mark": {"type": "point", "shape": "circle", "filled": true, "opacity": 1, "size": 120, "color": "#3457b6"},
     "encoding": {"x": {"datum": -105, "type": "quantitative", "scale": {"domain": [-130, 110], "nice": false, "zero": false}, "axis": null}, "y": {"datum": 4.68, "type": "quantitative", "scale": {"domain": [0, 5.5], "nice": false, "zero": false}, "axis": null}}},
    {"mark": {"type": "point", "shape": "circle", "filled": true, "opacity": 1, "size": 120, "color": "#e5383e"},
     "encoding": {"x": {"datum": -105, "type": "quantitative", "scale": {"domain": [-130, 110], "nice": false, "zero": false}, "axis": null}, "y": {"datum": 3.99, "type": "quantitative", "scale": {"domain": [0, 5.5], "nice": false, "zero": false}, "axis": null}}},
    {"mark": {"type": "point", "shape": "square", "filled": true, "opacity": 1, "size": 85, "fill": "white", "stroke": "#3e6dcc", "strokeWidth": 1.5},
     "encoding": {"x": {"datum": -11.9, "type": "quantitative", "scale": {"domain": [-130, 110], "nice": false, "zero": false}, "axis": null}, "y": {"datum": 4.68, "type": "quantitative", "scale": {"domain": [0, 5.5], "nice": false, "zero": false}, "axis": null}}},
    {"mark": {"type": "point", "shape": "square", "filled": true, "opacity": 1, "size": 85, "fill": "white", "stroke": "#ee3b2e", "strokeWidth": 1.5},
     "encoding": {"x": {"datum": -11.9, "type": "quantitative", "scale": {"domain": [-130, 110], "nice": false, "zero": false}, "axis": null}, "y": {"datum": 3.99, "type": "quantitative", "scale": {"domain": [0, 5.5], "nice": false, "zero": false}, "axis": null}}},
    {"mark": {"type": "text", "text": "D", "fontSize": 17, "align": "left", "baseline": "middle", "color": "black"},
     "encoding": {"x": {"datum": -89.1, "type": "quantitative", "scale": {"domain": [-130, 110], "nice": false, "zero": false}, "axis": null}, "y": {"datum": 4.68, "type": "quantitative", "scale": {"domain": [0, 5.5], "nice": false, "zero": false}, "axis": null}}},
    {"mark": {"type": "text", "text": "xz/yz", "fontSize": 12.5, "align": "left", "baseline": "middle", "color": "black", "dx": 12.5, "dy": 5},
     "encoding": {"x": {"datum": -89.1, "type": "quantitative", "scale": {"domain": [-130, 110], "nice": false, "zero": false}, "axis": null}, "y": {"datum": 4.68, "type": "quantitative", "scale": {"domain": [0, 5.5], "nice": false, "zero": false}, "axis": null}}},
    {"mark": {"type": "text", "text": "[fit h", "fontSize": 15, "align": "left", "baseline": "middle", "color": "black", "dx": 50.7},
     "encoding": {"x": {"datum": -89.1, "type": "quantitative", "scale": {"domain": [-130, 110], "nice": false, "zero": false}, "axis": null}, "y": {"datum": 4.68, "type": "quantitative", "scale": {"domain": [0, 5.5], "nice": false, "zero": false}, "axis": null}}},
    {"mark": {"type": "text", "text": "c2", "fontSize": 11, "align": "left", "baseline": "middle", "color": "black", "dx": 79.8, "dy": 4},
     "encoding": {"x": {"datum": -89.1, "type": "quantitative", "scale": {"domain": [-130, 110], "nice": false, "zero": false}, "axis": null}, "y": {"datum": 4.68, "type": "quantitative", "scale": {"domain": [0, 5.5], "nice": false, "zero": false}, "axis": null}}},
    {"mark": {"type": "text", "text": "(T)]", "fontSize": 15, "align": "left", "baseline": "middle", "color": "black", "dx": 91.8},
     "encoding": {"x": {"datum": -89.1, "type": "quantitative", "scale": {"domain": [-130, 110], "nice": false, "zero": false}, "axis": null}, "y": {"datum": 4.68, "type": "quantitative", "scale": {"domain": [0, 5.5], "nice": false, "zero": false}, "axis": null}}},
    {"mark": {"type": "text", "text": "D", "fontSize": 17, "align": "left", "baseline": "middle", "color": "black"},
     "encoding": {"x": {"datum": -89.1, "type": "quantitative", "scale": {"domain": [-130, 110], "nice": false, "zero": false}, "axis": null}, "y": {"datum": 3.99, "type": "quantitative", "scale": {"domain": [0, 5.5], "nice": false, "zero": false}, "axis": null}}},
    {"mark": {"type": "text", "text": "xy", "fontSize": 12.5, "align": "left", "baseline": "middle", "color": "black", "dx": 12.5, "dy": 5},
     "encoding": {"x": {"datum": -89.1, "type": "quantitative", "scale": {"domain": [-130, 110], "nice": false, "zero": false}, "axis": null}, "y": {"datum": 3.99, "type": "quantitative", "scale": {"domain": [0, 5.5], "nice": false, "zero": false}, "axis": null}}},
    {"mark": {"type": "text", "text": "[fit h", "fontSize": 15, "align": "left", "baseline": "middle", "color": "black", "dx": 33.4},
     "encoding": {"x": {"datum": -89.1, "type": "quantitative", "scale": {"domain": [-130, 110], "nice": false, "zero": false}, "axis": null}, "y": {"datum": 3.99, "type": "quantitative", "scale": {"domain": [0, 5.5], "nice": false, "zero": false}, "axis": null}}},
    {"mark": {"type": "text", "text": "c2", "fontSize": 11, "align": "left", "baseline": "middle", "color": "black", "dx": 62.5, "dy": 4},
     "encoding": {"x": {"datum": -89.1, "type": "quantitative", "scale": {"domain": [-130, 110], "nice": false, "zero": false}, "axis": null}, "y": {"datum": 3.99, "type": "quantitative", "scale": {"domain": [0, 5.5], "nice": false, "zero": false}, "axis": null}}},
    {"mark": {"type": "text", "text": "(T)]", "fontSize": 15, "align": "left", "baseline": "middle", "color": "black", "dx": 74.5},
     "encoding": {"x": {"datum": -89.1, "type": "quantitative", "scale": {"domain": [-130, 110], "nice": false, "zero": false}, "axis": null}, "y": {"datum": 3.99, "type": "quantitative", "scale": {"domain": [0, 5.5], "nice": false, "zero": false}, "axis": null}}},
    {"mark": {"type": "text", "text": "D", "fontSize": 17, "align": "left", "baseline": "middle", "color": "black"},
     "encoding": {"x": {"datum": 4, "type": "quantitative", "scale": {"domain": [-130, 110], "nice": false, "zero": false}, "axis": null}, "y": {"datum": 4.68, "type": "quantitative", "scale": {"domain": [0, 5.5], "nice": false, "zero": false}, "axis": null}}},
    {"mark": {"type": "text", "text": "xz/yz", "fontSize": 12.5, "align": "left", "baseline": "middle", "color": "black", "dx": 12.5, "dy": 5},
     "encoding": {"x": {"datum": 4, "type": "quantitative", "scale": {"domain": [-130, 110], "nice": false, "zero": false}, "axis": null}, "y": {"datum": 4.68, "type": "quantitative", "scale": {"domain": [0, 5.5], "nice": false, "zero": false}, "axis": null}}},
    {"mark": {"type": "text", "text": "[fit Hall]", "fontSize": 15, "align": "left", "baseline": "middle", "color": "black", "dx": 50},
     "encoding": {"x": {"datum": 4, "type": "quantitative", "scale": {"domain": [-130, 110], "nice": false, "zero": false}, "axis": null}, "y": {"datum": 4.68, "type": "quantitative", "scale": {"domain": [0, 5.5], "nice": false, "zero": false}, "axis": null}}},
    {"mark": {"type": "text", "text": "D", "fontSize": 17, "align": "left", "baseline": "middle", "color": "black"},
     "encoding": {"x": {"datum": 4, "type": "quantitative", "scale": {"domain": [-130, 110], "nice": false, "zero": false}, "axis": null}, "y": {"datum": 3.99, "type": "quantitative", "scale": {"domain": [0, 5.5], "nice": false, "zero": false}, "axis": null}}},
    {"mark": {"type": "text", "text": "xy", "fontSize": 12.5, "align": "left", "baseline": "middle", "color": "black", "dx": 12.5, "dy": 5},
     "encoding": {"x": {"datum": 4, "type": "quantitative", "scale": {"domain": [-130, 110], "nice": false, "zero": false}, "axis": null}, "y": {"datum": 3.99, "type": "quantitative", "scale": {"domain": [0, 5.5], "nice": false, "zero": false}, "axis": null}}},
    {"mark": {"type": "text", "text": "[fit Hall]", "fontSize": 15, "align": "left", "baseline": "middle", "color": "black", "dx": 35.7},
     "encoding": {"x": {"datum": 4, "type": "quantitative", "scale": {"domain": [-130, 110], "nice": false, "zero": false}, "axis": null}, "y": {"datum": 3.99, "type": "quantitative", "scale": {"domain": [0, 5.5], "nice": false, "zero": false}, "axis": null}}},
    {"mark": {"type": "text", "text": "(b)", "fontSize": 17, "fontWeight": "bold", "align": "center", "baseline": "middle", "color": "black"},
     "encoding": {"x": {"datum": -148.1, "type": "quantitative", "scale": {"domain": [-130, 110], "nice": false, "zero": false}, "axis": null}, "y": {"datum": -0.483, "type": "quantitative", "scale": {"domain": [0, 5.5], "nice": false, "zero": false}, "axis": null}}},
    {"mark": {"type": "text", "text": "V", "fontSize": 18, "align": "left", "baseline": "middle", "color": "black"},
     "encoding": {"x": {"datum": -20.3, "type": "quantitative", "scale": {"domain": [-130, 110], "nice": false, "zero": false}, "axis": null}, "y": {"datum": -0.694, "type": "quantitative", "scale": {"domain": [0, 5.5], "nice": false, "zero": false}, "axis": null}}},
    {"mark": {"type": "text", "text": "G", "fontSize": 13, "align": "left", "baseline": "middle", "color": "black", "dx": 12, "dy": 4},
     "encoding": {"x": {"datum": -20.3, "type": "quantitative", "scale": {"domain": [-130, 110], "nice": false, "zero": false}, "axis": null}, "y": {"datum": -0.694, "type": "quantitative", "scale": {"domain": [0, 5.5], "nice": false, "zero": false}, "axis": null}}},
    {"mark": {"type": "text", "text": "(V)", "fontSize": 18, "align": "left", "baseline": "middle", "color": "black", "dx": 27},
     "encoding": {"x": {"datum": -20.3, "type": "quantitative", "scale": {"domain": [-130, 110], "nice": false, "zero": false}, "axis": null}, "y": {"datum": -0.694, "type": "quantitative", "scale": {"domain": [0, 5.5], "nice": false, "zero": false}, "axis": null}}}
  ]
}
]
}
